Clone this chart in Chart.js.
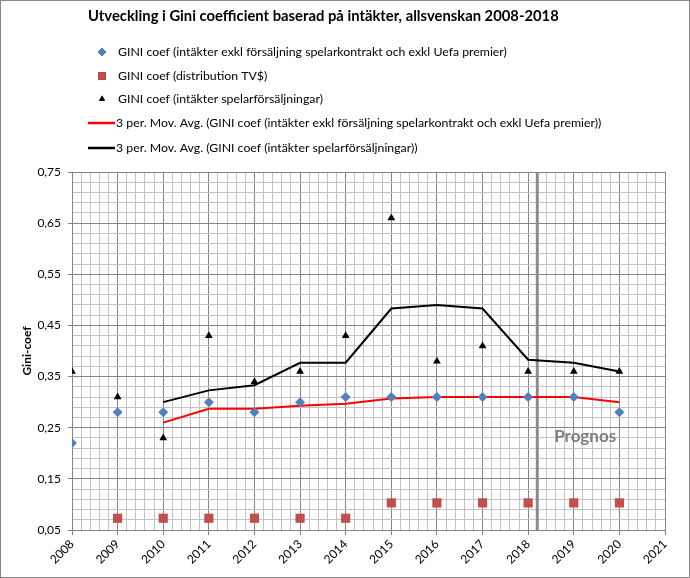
<!DOCTYPE html>
<html lang="sv">
<head>
<meta charset="utf-8">
<title>Gini coefficient allsvenskan</title>
<script src="https://cdn.jsdelivr.net/npm/chart.js@4/dist/chart.umd.min.js"></script>
<style>
  html, body { margin: 0; padding: 0; background: #fff; }
  #wrap { width: 690px; height: 578px; }
</style>
</head>
<body>
<div id="wrap"><canvas id="giniChart" width="690" height="578"></canvas></div>
<script>
// data
const years = [2008, 2009, 2010, 2011, 2012, 2013, 2014, 2015, 2016, 2017, 2018, 2019, 2020];
const intakterExkl = [0.22, 0.28, 0.28, 0.30, 0.28, 0.30, 0.31, 0.31, 0.31, 0.31, 0.31, 0.31, 0.28];
const tvDistribution = [null, 0.073, 0.073, 0.073, 0.073, 0.073, 0.073, 0.103, 0.103, 0.103, 0.103, 0.103, 0.103];
const spelarForsaljning = [0.36, 0.31, 0.23, 0.43, 0.34, 0.36, 0.43, 0.66, 0.38, 0.41, 0.36, 0.36, 0.36];
const movAvgExkl = [null, null, 0.26, 0.287, 0.287, 0.293, 0.297, 0.307, 0.31, 0.31, 0.31, 0.31, 0.30];
const movAvgSpelar = [null, null, 0.30, 0.323, 0.333, 0.377, 0.377, 0.483, 0.49, 0.483, 0.383, 0.377, 0.36];

const seriesLabels = [
  "GINI coef (intäkter exkl försäljning spelarkontrakt och exkl Uefa premier)",
  "GINI coef (distribution TV$)",
  "GINI coef (intäkter spelarförsäljningar)",
  "3 per. Mov. Avg. (GINI coef (intäkter exkl försäljning spelarkontrakt och exkl Uefa premier))",
  "3 per. Mov. Avg. (GINI coef (intäkter spelarförsäljningar))",
];
const titleText = "Utveckling i Gini coefficient baserad på intäkter, allsvenskan 2008-2018";
const yTitle = "Gini-coef";
const xMin = 2008, xMax = 2021;
const yMin = 0.05, yMax = 0.75;
const prognosYear = 2018.2;
const prognosLabel = "Prognos";

const FONT = "Lato, 'Open Sans', sans-serif";

function toPoints(values) {
  return years.map((yr, i) => ({ x: yr, y: values[i] })).filter((p) => p.y !== null);
}

function isWhole(v) {
  return Math.abs(v - Math.round(v)) < 1e-6;
}
function isMajorY(v) {
  return Math.round(v * 100) % 10 === 5;
}

// titel, legend, prognos-linje, ram
const decorPlugin = {
  id: "decor",
  beforeDatasetsDraw(chart) {
    const { ctx, chartArea, scales } = chart;
    const x = scales.x.getPixelForValue(prognosYear);
    ctx.save();
    ctx.strokeStyle = "#8c8c8c";
    ctx.lineWidth = 3;
    ctx.beginPath();
    ctx.moveTo(x, chartArea.top);
    ctx.lineTo(x, chartArea.bottom);
    ctx.stroke();

    ctx.fillStyle = "#7f7f7f";
    ctx.font = "bold 17px " + FONT;
    ctx.textAlign = "center";
    ctx.textBaseline = "middle";
    ctx.fillText(prognosLabel, scales.x.getPixelForValue(2019.25), scales.y.getPixelForValue(0.232));
    ctx.restore();
  },
  afterDraw(chart) {
    const { ctx } = chart;
    ctx.save();
    ctx.strokeStyle = "#868686";
    ctx.lineWidth = 1;
    ctx.strokeRect(0.5, 0.5, 689, 577);

    ctx.fillStyle = "#000";
    ctx.font = "bold 14.8px " + FONT;
    ctx.textAlign = "left";
    ctx.textBaseline = "middle";
    ctx.fillText(titleText, 88, 16);

    const rows = [52, 76, 99, 123, 148];
    ctx.font = "12.3px " + FONT;
    chart.data.datasets.forEach((ds, i) => {
      const y = rows[i];
      if (ds.showLine) {
        ctx.strokeStyle = ds.borderColor;
        ctx.lineWidth = 2.5;
        ctx.beginPath();
        ctx.moveTo(88, y);
        ctx.lineTo(115, y);
        ctx.stroke();
        ctx.fillStyle = "#000";
        ctx.fillText(ds.label, 116, y);
      } else {
        Chart.helpers.drawPoint(ctx, {
          pointStyle: ds.pointStyle,
          radius: ds.legendRadius,
          borderWidth: 0,
        }, 102, y);
        ctx.fillStyle = ds.backgroundColor;
        ctx.strokeStyle = ds.backgroundColor;
        ctx.fill();
        ctx.fillStyle = "#000";
        ctx.fillText(ds.label, 118, y);
      }
    });
    ctx.restore();
  },
};

const ctx = document.getElementById("giniChart").getContext("2d");

new Chart(ctx, {
  type: "line",
  data: {
    datasets: [
      {
        label: seriesLabels[0],
        data: toPoints(intakterExkl),
        showLine: false,
        pointStyle: "rectRot",
        pointRadius: 5,
        legendRadius: 4,
        backgroundColor: "#4F81BD",
        borderColor: "#4F81BD",
        borderWidth: 0,
        order: 0,
      },
      {
        label: seriesLabels[1],
        data: toPoints(tvDistribution),
        showLine: false,
        pointStyle: "rect",
        pointRadius: 6.5,
        legendRadius: 5.5,
        backgroundColor: "#C0504D",
        borderColor: "#C0504D",
        borderWidth: 0,
        order: 0,
      },
      {
        label: seriesLabels[2],
        data: toPoints(spelarForsaljning),
        showLine: false,
        pointStyle: "triangle",
        pointRadius: 4.5,
        legendRadius: 3.5,
        backgroundColor: "#000000",
        borderColor: "#000000",
        borderWidth: 0,
        order: 0,
      },
      {
        label: seriesLabels[3],
        data: toPoints(movAvgExkl),
        showLine: true,
        borderColor: "#FF0000",
        borderWidth: 2,
        pointRadius: 0,
        tension: 0,
        order: 1,
      },
      {
        label: seriesLabels[4],
        data: toPoints(movAvgSpelar),
        showLine: true,
        borderColor: "#000000",
        borderWidth: 2,
        pointRadius: 0,
        tension: 0,
        order: 1,
      },
    ],
  },
  options: {
    responsive: false,
    animation: false,
    devicePixelRatio: 1,
    layout: { padding: { top: 172, right: 25, bottom: 0, left: 0 } },
    plugins: {
      legend: { display: false },
      title: { display: false },
      tooltip: { enabled: false },
    },
    scales: {
      x: {
        type: "linear",
        min: xMin,
        max: xMax,
        afterFit(scale) {
          scale.height = 48;
        },
        ticks: {
          stepSize: 0.2,
          autoSkip: false,
          minRotation: 45,
          maxRotation: 45,
          padding: 2,
          color: "#000",
          font: { family: FONT, size: 12 },
          callback: (v) => (isWhole(v) ? String(Math.round(v)) : ""),
        },
        grid: {
          tickLength: 5,
          color: (c) => (isWhole(c.tick.value) ? "#858585" : "#c3c3c3"),
          tickColor: (c) => (isWhole(c.tick.value) ? "#858585" : "rgba(0,0,0,0)"),
        },
        border: { color: "#858585" },
      },
      y: {
        type: "linear",
        min: yMin,
        max: yMax,
        afterFit(scale) {
          scale.width = 72;
        },
        title: {
          display: true,
          text: yTitle,
          color: "#000",
          font: { family: FONT, size: 12, weight: "bold" },
          padding: { top: 20, bottom: 0 },
        },
        ticks: {
          stepSize: 0.02,
          autoSkip: false,
          padding: 7,
          color: "#000",
          font: { family: FONT, size: 12 },
          callback: (v) => (isMajorY(v) ? v.toFixed(2).replace(".", ",") : ""),
        },
        grid: {
          tickLength: 4,
          color: (c) => (isMajorY(c.tick.value) ? "#858585" : "#c3c3c3"),
          tickColor: (c) => (isMajorY(c.tick.value) ? "#858585" : "rgba(0,0,0,0)"),
        },
        border: { color: "#858585" },
      },
    },
  },
  plugins: [decorPlugin],
});
</script>
</body>
</html>
